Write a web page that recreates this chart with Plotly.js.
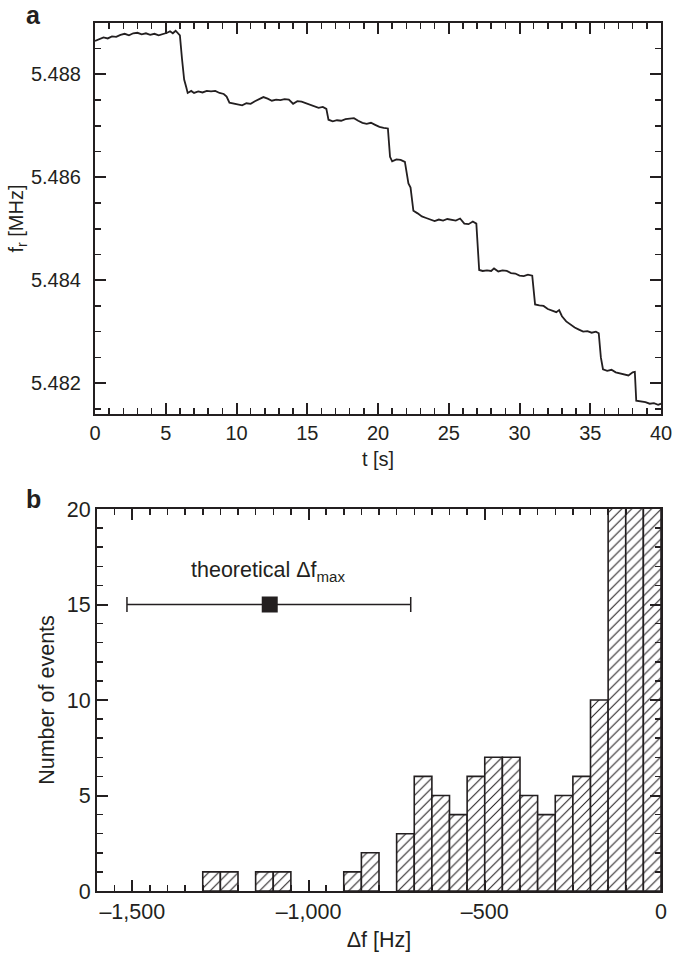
<!DOCTYPE html>
<html><head><meta charset="utf-8">
<script src="https://cdn.plot.ly/plotly-3.0.1.min.js"></script>
<style>html,body{margin:0;padding:0;background:#fff}</style>
</head><body><div id="chart" style="width:678px;height:954px"></div>
<script>
// Panel a: resonance frequency vs time
const timeS = [0,0.3,0.6,0.9,1.2,1.5,1.8,2.1,2.4,2.7,3.0,3.3,3.6,3.9,4.2,4.5,4.8,5.1,5.3,5.5,5.7,5.9,6.0,6.15,6.3,6.45,6.55,6.8,7.0,7.3,7.6,7.9,8.2,8.5,8.8,9.1,9.3,9.5,9.8,10.1,10.4,10.7,11.0,11.3,11.6,11.9,12.2,12.5,12.8,13.1,13.4,13.7,14.0,14.3,14.6,14.9,15.2,15.5,15.8,16.1,16.35,16.5,16.8,17.1,17.4,17.7,18.0,18.3,18.6,18.9,19.2,19.5,19.8,20.1,20.4,20.7,20.85,21.0,21.3,21.6,21.9,22.05,22.15,22.3,22.4,22.5,22.8,23.1,23.4,23.7,24.0,24.3,24.6,24.9,25.2,25.5,25.8,26.1,26.4,26.7,26.95,27.05,27.15,27.4,27.7,28.0,28.2,28.5,28.8,29.1,29.4,29.7,30.0,30.3,30.6,30.9,31.0,31.1,31.4,31.7,32.0,32.3,32.6,32.8,33.0,33.3,33.6,33.9,34.2,34.5,34.8,35.1,35.4,35.6,35.75,35.9,36.2,36.5,36.8,37.1,37.4,37.7,38.0,38.15,38.25,38.6,38.9,39.2,39.5,39.8,40.0];
const freqMHz = [5.48865,5.48868,5.48872,5.48870,5.48874,5.48873,5.48877,5.48879,5.48876,5.48880,5.48881,5.48878,5.48880,5.48877,5.48879,5.48876,5.48878,5.48881,5.48884,5.48880,5.48885,5.48880,5.48876,5.48830,5.48790,5.48775,5.48764,5.48768,5.48764,5.48767,5.48765,5.48768,5.48767,5.48768,5.48764,5.48762,5.48757,5.48745,5.48743,5.48742,5.48740,5.48744,5.48743,5.48748,5.48752,5.48756,5.48753,5.48749,5.48751,5.48750,5.48752,5.48751,5.48743,5.48748,5.48747,5.48744,5.48741,5.48738,5.48735,5.48737,5.48733,5.48712,5.48709,5.48711,5.48710,5.48713,5.48714,5.48715,5.48710,5.48706,5.48704,5.48706,5.48702,5.48698,5.48696,5.48695,5.48640,5.48631,5.48635,5.48634,5.48630,5.48600,5.48588,5.48580,5.48555,5.48535,5.48530,5.48524,5.48521,5.48518,5.48515,5.48518,5.48516,5.48519,5.48517,5.48516,5.48520,5.48510,5.48509,5.48514,5.48510,5.48470,5.48420,5.48418,5.48419,5.48418,5.48423,5.48417,5.48419,5.48418,5.48414,5.48413,5.48409,5.48408,5.48411,5.48409,5.48380,5.48353,5.48351,5.48350,5.48344,5.48341,5.48338,5.48342,5.48330,5.48320,5.48314,5.48308,5.48304,5.48300,5.48301,5.48298,5.48300,5.48297,5.48250,5.48227,5.48224,5.48226,5.48221,5.48219,5.48217,5.48215,5.48221,5.48222,5.48166,5.48165,5.48163,5.48160,5.48161,5.48158,5.48160];

// Panel b: histogram of frequency jumps (bin left edges, 50 Hz bins)
const binLeftHz = [-1300,-1250,-1150,-1100,-900,-850,-750,-700,-650,-600,-550,-500,-450,-400,-350,-300,-250,-200,-150,-100,-50];
const binCounts = [1,1,1,1,1,2,3,6,5,4,6,7,7,5,4,5,6,10,24,27,30];
const binWidthHz = 50;

// theoretical Δf_max
const theoryCenterHz = [-1110];
const theoryY = [15];
const theoryErrPlus = [400];
const theoryErrMinus = [405];

// tick labels and unlabelled long ticks
const fTickVals = [5.482,5.484,5.486,5.488];
const fTickText = ['5.482','5.484','5.486','5.488'];
const fMidTickVals = [5.483,5.485,5.487];
const dfTickVals = [-1500,-1000,-500,0];
const dfTickText = ['\u20131,500','\u20131,000','\u2013500','0'];
const dfMidTickVals = [-1250,-750,-250];

const ink = '#231f20';
const fam = 'Liberation Sans, Arial, sans-serif';
const fntA = {family:fam, size:20, color:ink};
const fntB = {family:fam, size:21.5, color:ink};
const W = 678, H = 954;

const traces = [
  {type:'scatter', mode:'lines', x:timeS, y:freqMHz, xaxis:'x', yaxis:'y',
   line:{color:ink, width:1.8}, showlegend:false, hoverinfo:'skip'},
  {type:'bar', x:binLeftHz, y:binCounts, width:binWidthHz, offset:0, xaxis:'x2', yaxis:'y2',
   marker:{color:'#ffffff', line:{color:ink, width:1.6},
     pattern:{shape:'/', fgcolor:ink, bgcolor:'#ffffff', size:7, solidity:0.15}},
   showlegend:false, hoverinfo:'skip'},
  {type:'scatter', mode:'markers', x:theoryCenterHz, y:theoryY, xaxis:'x2', yaxis:'y2',
   marker:{symbol:'square', size:16, color:ink},
   error_x:{type:'data', array:theoryErrPlus, arrayminus:theoryErrMinus, color:ink, thickness:1.5, width:7.5},
   showlegend:false, hoverinfo:'skip'}
];

const axCommon = {showline:true, linewidth:2, linecolor:ink, mirror:'ticks', ticks:'inside',
  tickwidth:2, tickcolor:ink, showgrid:false, zeroline:false, automargin:false};
const minorTicks = (t0, dt) => ({tickmode:'linear', tick0:t0, dtick:dt, ticklen:6, tickwidth:1.5, ticks:'inside', tickcolor:ink});
const overlayTicks = {showline:false, mirror:'ticks', ticks:'inside', ticklen:11, tickwidth:2, tickcolor:ink,
  showticklabels:false, showgrid:false, zeroline:false, automargin:false, tickmode:'array'};

const yRangeA = [5.4814,5.4890];
const xRangeB = [-1600,0];

const layout = {
  width:W, height:H, margin:{l:0,r:0,t:0,b:0}, paper_bgcolor:'#fff', plot_bgcolor:'#fff',
  font:fntA, showlegend:false, bargap:0,
  xaxis: Object.assign({}, axCommon, {domain:[95/W, 661/W], anchor:'y', range:[0,40],
    tickmode:'linear', tick0:0, dtick:5, ticklen:11, tickfont:fntA,
    minor:minorTicks(0,1),
    title:{text:'t [s]', font:fntA, standoff:9}}),
  yaxis: Object.assign({}, axCommon, {domain:[1-414/H, 1-23/H], anchor:'x', range:yRangeA,
    tickmode:'array', tickvals:fTickVals, ticktext:fTickText, ticklen:11, tickfont:fntA,
    ticklabelstandoff:8,
    minor:minorTicks(5.482,0.0005),
    title:{text:'f<sub>r</sub> [MHz]', font:fntA, standoff:2}}),
  yaxis3: Object.assign({}, overlayTicks, {overlaying:'y', anchor:'x', side:'left', range:yRangeA,
    tickvals:fMidTickVals}),
  xaxis2: Object.assign({}, axCommon, {domain:[97/W, 661/W], anchor:'y2', range:xRangeB,
    tickmode:'array', tickvals:dfTickVals, ticktext:dfTickText, ticklen:11, tickfont:fntB,
    minor:minorTicks(0,50),
    title:{text:'\u0394f [Hz]', font:fntB, standoff:9}}),
  xaxis3: Object.assign({}, overlayTicks, {overlaying:'x2', anchor:'y2', side:'bottom', range:xRangeB,
    tickvals:dfMidTickVals}),
  yaxis2: Object.assign({}, axCommon, {domain:[1-891/H, 1-509/H], anchor:'x2', range:[0,20],
    tickmode:'linear', tick0:0, dtick:5, ticklen:11, tickfont:fntB,
    minor:minorTicks(0,1),
    title:{text:'Number of events', font:fntB, standoff:6}}),
  annotations:[
    {xref:'paper', yref:'paper', x:33/W, y:1-15/H, text:'<b>a</b>', showarrow:false,
     font:{family:fam, size:25, color:ink}, xanchor:'center', yanchor:'middle'},
    {xref:'paper', yref:'paper', x:33/W, y:1-499/H, text:'<b>b</b>', showarrow:false,
     font:{family:fam, size:25, color:ink}, xanchor:'center', yanchor:'middle'},
    {xref:'x2', yref:'y2', x:-1115, y:16.75, text:'theoretical \u0394f<sub>max</sub>', showarrow:false,
     font:fntB, xanchor:'center', yanchor:'middle'}
  ]
};

Plotly.newPlot('chart', traces, layout, {staticPlot:true, displayModeBar:false});
</script>
</body></html>
